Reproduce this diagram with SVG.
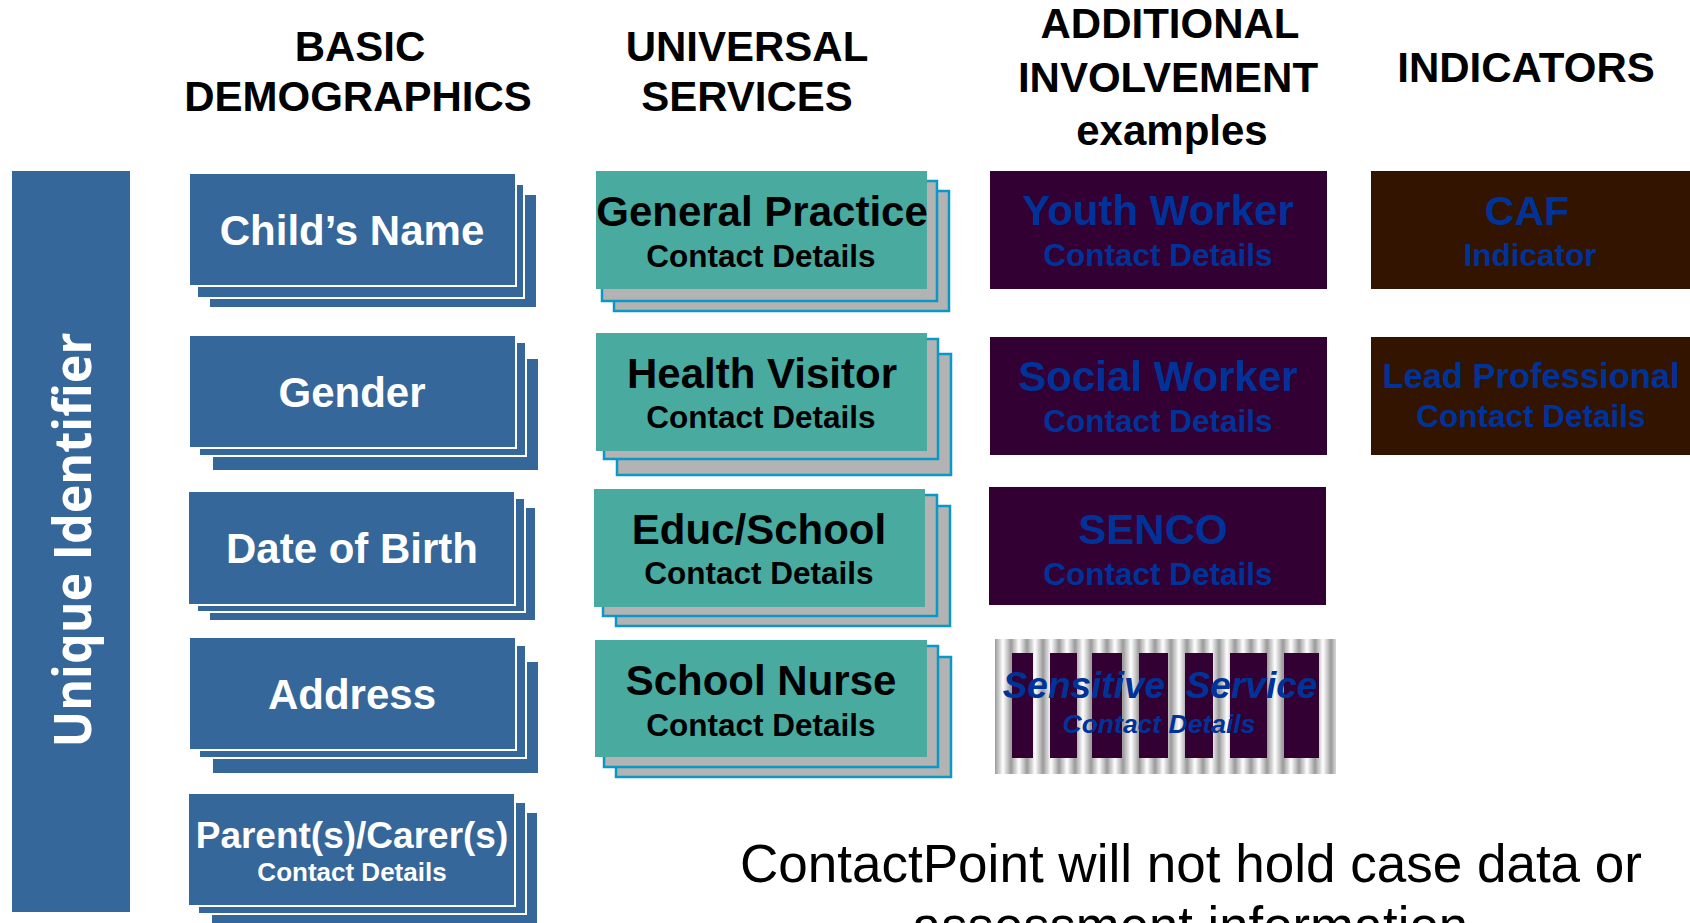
<svg xmlns="http://www.w3.org/2000/svg" width="1690" height="923" viewBox="0 0 1690 923">
<defs>
<linearGradient id="cyl" x1="0" y1="0" x2="1" y2="0">
<stop offset="0" stop-color="#9A9A9A"/>
<stop offset="0.5" stop-color="#FFFFFF"/>
<stop offset="1" stop-color="#9A9A9A"/>
</linearGradient>
<pattern id="stripes" patternUnits="userSpaceOnUse" x="995" y="0" width="16" height="20">
<rect x="0" y="0" width="16" height="20" fill="url(#cyl)"/>
</pattern>
</defs>
<style>
.demo{fill:#35679A;stroke:#FFFFFF;stroke-width:2}
.teal{fill:#49AAA0}
.layer{fill:#B3B3B3;stroke:#0A98C6;stroke-width:2.5}
.purple{fill:#330033}
.brown{fill:#331400}
.hdr{font-family:"Liberation Sans",Arial,sans-serif;font-weight:bold;font-size:42px;fill:#000;text-anchor:middle}
.wt{font-family:"Liberation Sans",Arial,sans-serif;font-weight:bold;fill:#FFFFFF;text-anchor:middle}
.bk{font-family:"Liberation Sans",Arial,sans-serif;font-weight:bold;fill:#000000;text-anchor:middle}
.bl{font-family:"Liberation Sans",Arial,sans-serif;font-weight:bold;fill:#003399;text-anchor:middle}
.big{font-size:42px}
.cd{font-size:31.5px}
.foot{font-family:"Liberation Sans",Arial,sans-serif;font-size:53px;fill:#000000}
</style>
<rect x="0" y="0" width="1690" height="923" fill="#FFFFFF"/>

<g id="headers">
<text class="hdr" x="360" y="61">BASIC</text>
<text class="hdr" x="358" y="111">DEMOGRAPHICS</text>
<text class="hdr" x="747" y="61">UNIVERSAL</text>
<text class="hdr" x="747" y="111">SERVICES</text>
<text class="hdr" x="1170" y="38">ADDITIONAL</text>
<text class="hdr" x="1168" y="92">INVOLVEMENT</text>
<text class="hdr" x="1172" y="145">examples</text>
<text class="hdr" x="1526" y="82">INDICATORS</text>
</g>

<g id="unique-identifier">
<rect x="12" y="171" width="118" height="741" fill="#35679A"/>
<text x="0" y="0" transform="translate(91,540) rotate(-90)" font-family="'Open Sans','DejaVu Sans',sans-serif" font-weight="bold" font-size="52" fill="#FFFFFF" text-anchor="middle" textLength="415" lengthAdjust="spacingAndGlyphs">Unique Identifier</text>
</g>

<g id="node-childs-name">
<rect class="demo" x="209" y="194" width="328" height="114"/>
<rect class="demo" x="197" y="184" width="327" height="114"/>
<rect class="demo" x="189" y="173" width="327" height="113"/>
<text class="wt big" x="352" y="245">Child’s Name</text>
</g>

<g id="node-gender">
<rect class="demo" x="212" y="358" width="327" height="113"/>
<rect class="demo" x="199" y="342" width="327" height="114"/>
<rect class="demo" x="189" y="335" width="327" height="113"/>
<text class="wt big" x="352" y="407">Gender</text>
</g>

<g id="node-date-of-birth">
<rect class="demo" x="209" y="507" width="327" height="114"/>
<rect class="demo" x="197" y="498" width="328" height="114"/>
<rect class="demo" x="188" y="491" width="327" height="114"/>
<text class="wt big" x="352" y="563">Date of Birth</text>
</g>

<g id="node-address">
<rect class="demo" x="212" y="661" width="327" height="113"/>
<rect class="demo" x="199" y="645" width="327" height="113"/>
<rect class="demo" x="189" y="637" width="327" height="113"/>
<text class="wt big" x="352" y="709">Address</text>
</g>

<g id="node-parents-carers">
<rect class="demo" x="211" y="812" width="327" height="125"/>
<rect class="demo" x="198" y="802" width="328" height="112"/>
<rect class="demo" x="188" y="793" width="327" height="113"/>
<text class="wt" x="352" y="848" font-size="37">Parent(s)/Carer(s)</text>
<text class="wt" x="352" y="881" font-size="26">Contact Details</text>
</g>

<g id="node-general-practice">
<rect class="layer" x="614" y="191" width="335" height="120"/>
<rect class="layer" x="602" y="181" width="335" height="120"/>
<rect class="teal" x="596" y="171" width="331" height="118"/>
<text class="bk big" x="762" y="226">General Practice</text>
<text class="bk cd" x="761" y="267">Contact Details</text>
</g>

<g id="node-health-visitor">
<rect class="layer" x="617" y="354" width="334" height="121"/>
<rect class="layer" x="604" y="339" width="334" height="120"/>
<rect class="teal" x="596" y="333" width="331" height="118"/>
<text class="bk big" x="762" y="388">Health Visitor</text>
<text class="bk cd" x="761" y="428">Contact Details</text>
</g>

<g id="node-educ-school">
<rect class="layer" x="616" y="506" width="334" height="120"/>
<rect class="layer" x="603" y="495" width="334" height="121"/>
<rect class="teal" x="594" y="489" width="331" height="118"/>
<text class="bk big" x="759" y="544">Educ/School</text>
<text class="bk cd" x="759" y="584">Contact Details</text>
</g>

<g id="node-school-nurse">
<rect class="layer" x="616" y="657" width="335" height="120"/>
<rect class="layer" x="604" y="646" width="334" height="121"/>
<rect class="teal" x="595" y="640" width="332" height="117"/>
<text class="bk big" x="761" y="695">School Nurse</text>
<text class="bk cd" x="761" y="736">Contact Details</text>
</g>

<g id="node-youth-worker">
<rect class="purple" x="990" y="171" width="337" height="118"/>
<text class="bl big" x="1158" y="225">Youth Worker</text>
<text class="bl cd" x="1158" y="266">Contact Details</text>
</g>

<g id="node-social-worker">
<rect class="purple" x="990" y="337" width="337" height="118"/>
<text class="bl big" x="1158" y="391">Social Worker</text>
<text class="bl cd" x="1158" y="432">Contact Details</text>
</g>

<g id="node-senco">
<rect class="purple" x="989" y="487" width="337" height="118"/>
<text class="bl big" x="1153" y="544">SENCO</text>
<text class="bl cd" x="1158" y="585">Contact Details</text>
</g>

<g id="node-sensitive-service">
<rect x="995" y="639" width="341" height="135" fill="url(#stripes)"/>
<rect class="purple" x="1012" y="653" width="21" height="105"/>
<rect class="purple" x="1050" y="653" width="27" height="105"/>
<rect class="purple" x="1092" y="653" width="30" height="105"/>
<rect class="purple" x="1139" y="653" width="29" height="105"/>
<rect class="purple" x="1185" y="653" width="28" height="105"/>
<rect class="purple" x="1230" y="653" width="37" height="105"/>
<rect class="purple" x="1284" y="653" width="35" height="105"/>
<text class="bl" x="1160" y="698" font-size="37" font-style="italic" xml:space="preserve">Sensitive  Service</text>
<text class="bl" x="1159" y="733" font-size="26.5" font-style="italic">Contact Details</text>
</g>

<g id="node-caf">
<rect class="brown" x="1371" y="171" width="330" height="118"/>
<text class="bl" x="1527" y="225" font-size="41">CAF</text>
<text class="bl cd" x="1530" y="266">Indicator</text>
</g>

<g id="node-lead-professional">
<rect class="brown" x="1371" y="337" width="330" height="118"/>
<text class="bl" x="1531" y="388" font-size="34.5">Lead Professional</text>
<text class="bl cd" x="1531" y="427">Contact Details</text>
</g>

<g id="connectors"/>

<g id="footnote">
<text class="foot" x="740" y="882" textLength="902" lengthAdjust="spacingAndGlyphs">ContactPoint will not hold case data or</text>
<text class="foot" x="912" y="944" textLength="556" lengthAdjust="spacingAndGlyphs">assessment information</text>
</g>
</svg>
